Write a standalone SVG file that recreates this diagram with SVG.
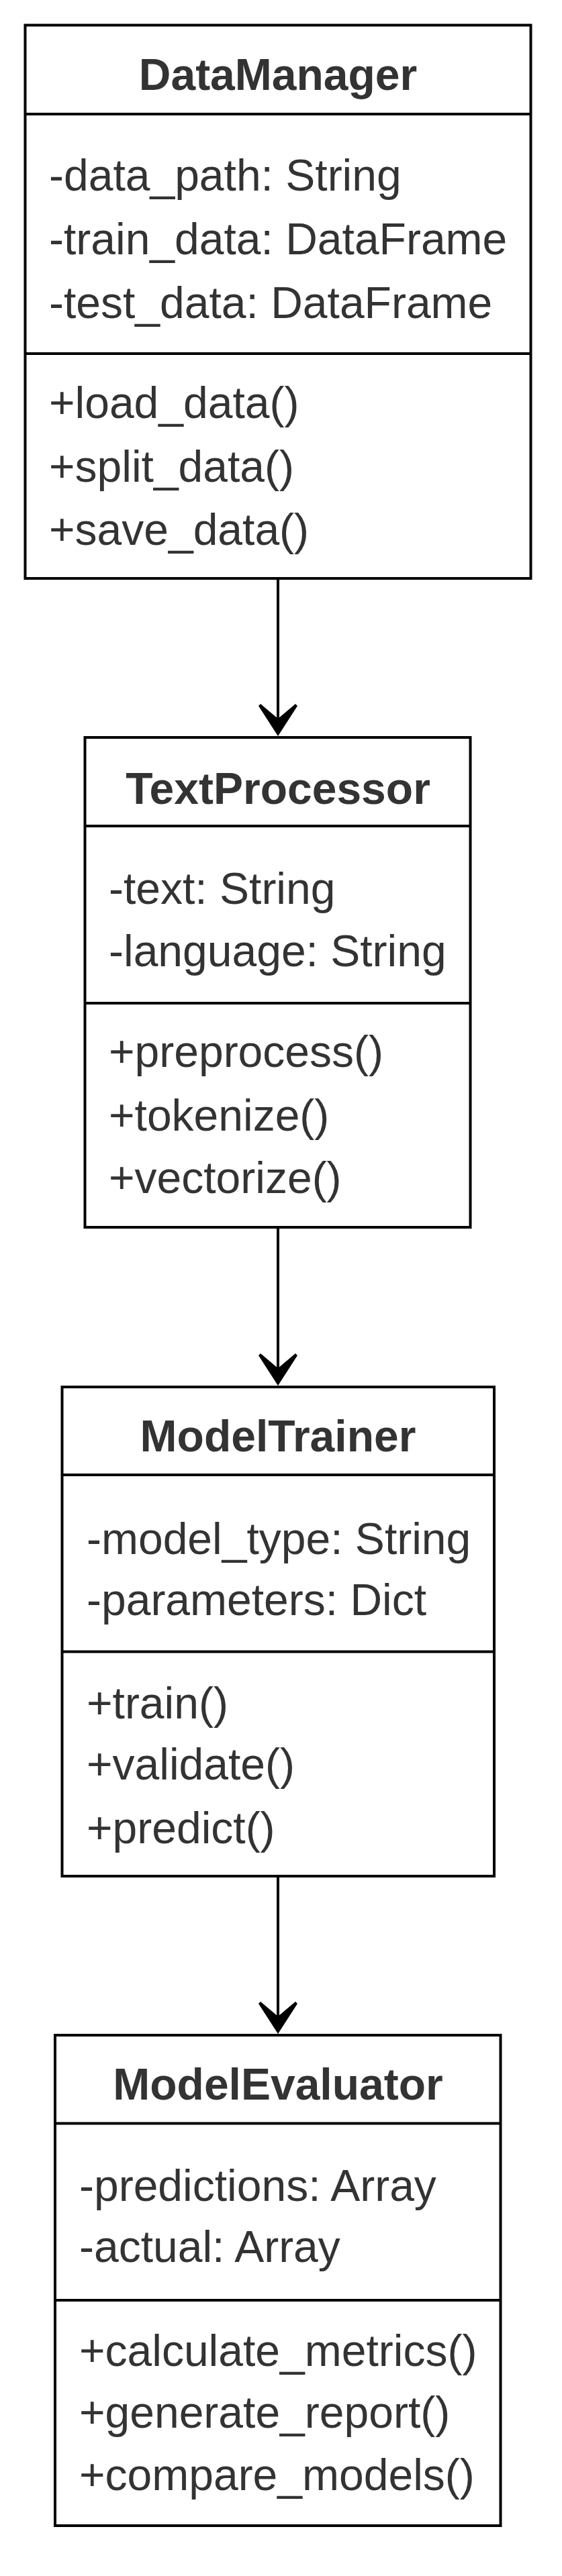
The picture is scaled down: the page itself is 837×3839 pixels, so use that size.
<svg xmlns="http://www.w3.org/2000/svg" width="837" height="3839" viewBox="0 0 837 3839">
<defs>
<style>
.box{fill:#ffffff;stroke:#000000;stroke-width:4}
.div{stroke:#000000;stroke-width:4}
.title{font-family:"Liberation Sans",Arial,sans-serif;font-size:66px;font-weight:bold;fill:#333333;text-anchor:middle}
.item{font-family:"Liberation Sans",Arial,sans-serif;font-size:66px;fill:#333333}
.edge{stroke:#000000;stroke-width:4;fill:none}
.head{fill:#000000}
</style>
</defs>
<rect width="837" height="3839" fill="#ffffff"/>
<g id="connectors">
<line class="edge" x1="414" y1="862" x2="414" y2="1072"/>
<polygon class="head" points="414,1097 385,1052 388,1049 414,1071 440,1049 443,1052"/>
<line class="edge" x1="414" y1="1829" x2="414" y2="2040"/>
<polygon class="head" points="414,2065 385,2020 388,2017 414,2039 440,2017 443,2020"/>
<line class="edge" x1="414" y1="2796" x2="414" y2="3006"/>
<polygon class="head" points="414,3031 385,2986 388,2983 414,3005 440,2983 443,2986"/>
</g>
<g id="DataManager">
<rect class="box" x="37.5" y="37.5" width="753" height="824.5"/>
<line class="div" x1="37.5" y1="170" x2="790.5" y2="170"/>
<line class="div" x1="37.5" y1="527" x2="790.5" y2="527"/>
<text class="title" x="414" y="134">DataManager</text>
<text class="item" x="73" y="284">-data_path: String</text>
<text class="item" x="73" y="379">-train_data: DataFrame</text>
<text class="item" x="73" y="474">-test_data: DataFrame</text>
<text class="item" x="73" y="623">+load_data()</text>
<text class="item" x="73" y="718">+split_data()</text>
<text class="item" x="73" y="812">+save_data()</text>
</g>
<g id="TextProcessor">
<rect class="box" x="126.5" y="1099" width="574" height="730"/>
<line class="div" x1="126.5" y1="1231" x2="700.5" y2="1231"/>
<line class="div" x1="126.5" y1="1495" x2="700.5" y2="1495"/>
<text class="title" x="414" y="1198">TextProcessor</text>
<text class="item" x="162" y="1347">-text: String</text>
<text class="item" x="162" y="1440">-language: String</text>
<text class="item" x="162" y="1590">+preprocess()</text>
<text class="item" x="162" y="1685">+tokenize()</text>
<text class="item" x="162" y="1778">+vectorize()</text>
</g>
<g id="ModelTrainer">
<rect class="box" x="92.5" y="2067" width="643.5" height="729"/>
<line class="div" x1="92.5" y1="2198" x2="736" y2="2198"/>
<line class="div" x1="92.5" y1="2461.5" x2="736" y2="2461.5"/>
<text class="title" x="414" y="2163">ModelTrainer</text>
<text class="item" x="129" y="2316">-model_type: String</text>
<text class="item" x="129" y="2407">-parameters: Dict</text>
<text class="item" x="129" y="2561">+train()</text>
<text class="item" x="129" y="2652">+validate()</text>
<text class="item" x="129" y="2747">+predict()</text>
</g>
<g id="ModelEvaluator">
<rect class="box" x="82" y="3033" width="663.5" height="731"/>
<line class="div" x1="82" y1="3164.5" x2="745.5" y2="3164.5"/>
<line class="div" x1="82" y1="3428" x2="745.5" y2="3428"/>
<text class="title" x="414" y="3129">ModelEvaluator</text>
<text class="item" x="118" y="3280">-predictions: Array</text>
<text class="item" x="118" y="3371">-actual: Array</text>
<text class="item" x="118" y="3526">+calculate_metrics()</text>
<text class="item" x="118" y="3618">+generate_report()</text>
<text class="item" x="118" y="3711">+compare_models()</text>
</g>
</svg>
